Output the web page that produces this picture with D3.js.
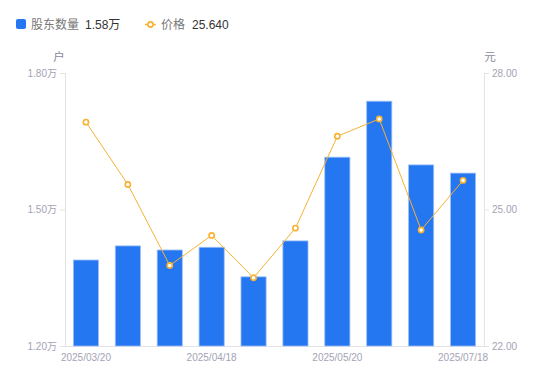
<!DOCTYPE html>
<html><head><meta charset="utf-8">
<script src="https://cdn.jsdelivr.net/npm/d3@7/dist/d3.min.js"></script>
<style>body{margin:0;background:#fff;font-family:"Liberation Sans","Noto Sans CJK SC",sans-serif;}</style>
</head><body><svg id="c" width="550" height="381"></svg>
<script>
const dates = ["2025/03/20","2025/03/31","2025/04/10","2025/04/18","2025/04/30","2025/05/09","2025/05/20","2025/06/10","2025/06/30","2025/07/18"];
const holders = [1.389,1.420,1.411,1.417,1.352,1.431,1.615,1.738,1.598,1.580];
const prices = [26.92,25.55,23.77,24.43,23.50,24.59,26.61,26.99,24.55,25.64];
const leftTicks = [1.20,1.50,1.80];
const rightTicks = [22,25,28];
const shownLabels = ["2025/03/20","2025/04/18","2025/05/20","2025/07/18"];

const FONT = "'Liberation Sans','Noto Sans CJK SC',sans-serif";
const svg = d3.select("#c").style("font-family",FONT);
const m = {l:65, r:484, t:73, b:346};
const x = d3.scaleBand().domain(dates).range([m.l, m.r]).paddingInner(0.4).paddingOuter(0.2);
const xc = d => x(d) + x.bandwidth()/2;
const yL = d3.scaleLinear().domain([1.2,1.8]).range([m.b, m.t]);
const yR = d3.scaleLinear().domain([22,28]).range([m.b, m.t]);
const axisCol = "#e3e3e6", txtCol = "#a3a3b5";

// axes
const gl = svg.append("g").attr("transform",`translate(${m.l},0)`)
  .call(d3.axisLeft(yL).tickValues(leftTicks).tickSize(5).tickFormat(d=>d.toFixed(2)+"万"));
const gr = svg.append("g").attr("transform",`translate(${m.r},0)`)
  .call(d3.axisRight(yR).tickValues(rightTicks).tickSize(5).tickFormat(d=>d.toFixed(2)));
[gl,gr].forEach(g=>{
  g.select(".domain").attr("stroke",axisCol);
  g.selectAll(".tick line").attr("stroke",axisCol);
  g.selectAll(".tick text").attr("fill",txtCol).style("font-size","10px").style("font-family",FONT);
});
gl.selectAll(".tick text").attr("x",-8);
gr.selectAll(".tick text").attr("x",8);
const gb = svg.append("g").attr("transform",`translate(0,${m.b})`)
  .call(d3.axisBottom(x).tickValues(shownLabels).tickSize(0));
gb.select(".domain").attr("stroke",axisCol).attr("d",`M${m.l},0.5H${m.r}`);
gb.selectAll(".tick text").attr("fill",txtCol).attr("dy","0.9em").attr("y",6).style("font-size","10px").style("font-family",FONT);

// unit labels
svg.append("text").attr("x",59).attr("y",61).attr("text-anchor","middle").attr("fill","#8a8a9a").style("font-size","11.5px").text("户");
svg.append("text").attr("x",490).attr("y",61).attr("text-anchor","middle").attr("fill","#8a8a9a").style("font-size","11.5px").text("元");

// bars
svg.append("g").selectAll("rect").data(dates).join("rect")
  .attr("x",d=>x(d)).attr("width",x.bandwidth())
  .attr("y",(d,i)=>yL(holders[i])).attr("height",(d,i)=>m.b-yL(holders[i]))
  .attr("fill","#2576f1").attr("stroke","#9cc0f8").attr("stroke-width",0.8);

// line
const line = d3.line().x((d,i)=>xc(dates[i])).y(d=>yR(d));
svg.append("path").datum(prices).attr("d",line).attr("fill","none").attr("stroke","#f7b232").attr("stroke-width",1);
svg.append("g").selectAll("circle").data(prices).join("circle")
  .attr("cx",(d,i)=>xc(dates[i])).attr("cy",d=>yR(d)).attr("r",2.6)
  .attr("fill","#fff").attr("stroke","#f7b232").attr("stroke-width",1.6);

// legend
const lg = svg.append("g");
lg.append("rect").attr("x",16).attr("y",19).attr("width",10).attr("height",10).attr("rx",2).attr("fill","#2576f1");
lg.append("text").attr("x",31).attr("y",29).attr("fill","#777").style("font-size","12px").text("股东数量");
lg.append("text").attr("x",85).attr("y",29).attr("fill","#333").style("font-size","12px").text(holders[holders.length-1].toFixed(2)+"万");
lg.append("line").attr("x1",145).attr("x2",156).attr("y1",24.5).attr("y2",24.5).attr("stroke","#f7b232").attr("stroke-width",1.5);
lg.append("circle").attr("cx",150.5).attr("cy",24.5).attr("r",2.6).attr("fill","#fff").attr("stroke","#f7b232").attr("stroke-width",1.6);
lg.append("text").attr("x",161).attr("y",29).attr("fill","#777").style("font-size","12px").text("价格");
lg.append("text").attr("x",192).attr("y",29).attr("fill","#333").style("font-size","12px").text(prices[prices.length-1].toFixed(3));
</script></body></html>
